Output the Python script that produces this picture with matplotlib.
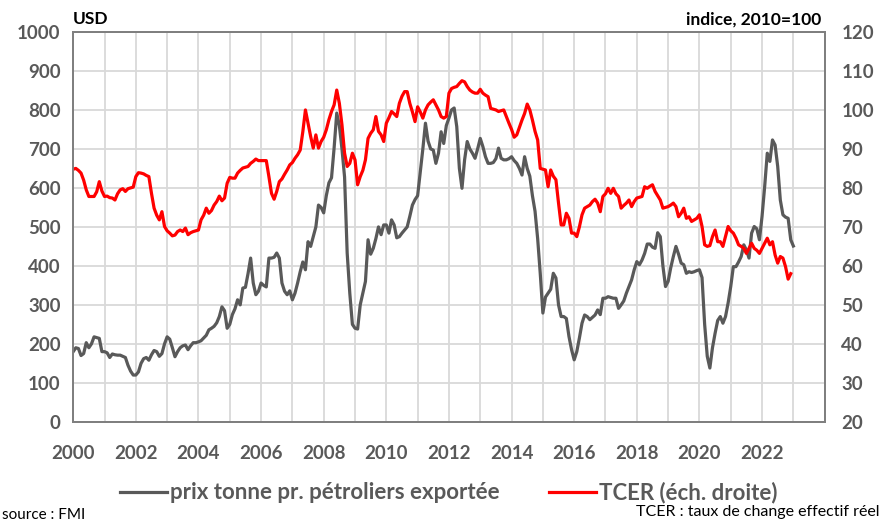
import numpy as np
import matplotlib.pyplot as plt

# monthly values, Jan 2000 onwards
prix_tonne = [
    180, 190, 188, 170, 175, 203, 190, 200, 218, 216, 214, 180,   # 2000
    180, 177, 165, 174, 172, 171, 171, 168, 165, 145, 130, 120,   # 2001
    120, 128, 150, 162, 165, 158, 172, 183, 180, 168, 175, 200,   # 2002
    218, 212, 190, 167, 180, 190, 195, 197, 185, 195, 203, 203,   # 2003
    205, 208, 215, 222, 236, 240, 245, 254, 270, 295, 285, 240,   # 2004
    250, 275, 290, 313, 300, 343, 345, 380, 420, 356, 326, 335,   # 2005
    356, 350, 346, 420, 420, 422, 433, 420, 356, 335, 326, 336,   # 2006
    313, 330, 356, 385, 410, 390, 462, 450, 475, 500, 556, 550,   # 2007
    536, 580, 613, 626, 703, 792, 760, 700, 628, 433, 330, 250,   # 2008
    240, 238, 300, 330, 360, 467, 430, 445, 470, 500, 480, 505,   # 2009
    505, 484, 518, 505, 472, 475, 484, 492, 500, 527, 556, 570,   # 2010
    580, 640, 700, 766, 720, 700, 697, 663, 689, 744, 714, 760,   # 2011
    779, 800, 805, 757, 650, 599, 672, 719, 700, 689, 676, 700,   # 2012
    727, 706, 680, 663, 663, 665, 675, 702, 676, 672, 672, 675,   # 2013
    680, 670, 663, 650, 633, 680, 650, 630, 580, 540, 470, 380,   # 2014
    279, 320, 330, 340, 381, 369, 300, 270, 270, 265, 219, 185,   # 2015
    159, 180, 215, 253, 274, 270, 262, 268, 274, 287, 275, 317,   # 2016
    317, 321, 319, 317, 317, 291, 300, 310, 330, 347, 364, 390,   # 2017
    411, 403, 415, 432, 456, 456, 448, 445, 485, 475, 400, 347,   # 2018
    360, 395, 424, 450, 430, 407, 403, 381, 385, 383, 385, 388,   # 2019
    390, 370, 250, 168, 138, 190, 227, 260, 270, 253, 270, 305,   # 2020
    347, 398, 398, 410, 424, 454, 441, 420, 484, 501, 495, 467,   # 2021
    527, 603, 689, 668, 723, 710, 655, 569, 531, 525, 522, 467,   # 2022
    451,                                                          # 2023
]

tcer = [
    84.8, 85.0, 84.5, 83.8, 82.0, 79.5, 77.8, 77.8, 77.8, 79.0, 81.6, 79.2,   # 2000
    77.8, 77.9, 77.5, 77.4, 76.9, 78.5, 79.5, 79.8, 79.1, 79.8, 80.0, 80.2,   # 2001
    82.9, 83.9, 83.8, 83.6, 83.2, 82.9, 78.6, 74.8, 73.0, 71.8, 73.9, 70.1,   # 2002
    69.0, 68.4, 67.7, 67.9, 68.8, 69.2, 68.8, 69.7, 68.0, 68.5, 68.8, 69.0,   # 2003
    69.2, 71.8, 73.0, 74.8, 73.5, 74.2, 75.6, 76.5, 77.9, 76.7, 77.4, 81.2,   # 2004
    82.7, 82.5, 82.5, 83.8, 84.5, 85.1, 85.3, 85.5, 86.3, 86.8, 87.4, 87.0,   # 2005
    87.0, 87.0, 87.0, 82.9, 78.6, 77.1, 79.1, 81.6, 82.3, 83.5, 84.6, 85.9,   # 2006
    86.5, 87.6, 88.5, 89.7, 94.4, 100.0, 96.6, 93.2, 90.2, 93.6, 90.2, 91.9,  # 2007
    93.0, 94.9, 97.5, 99.6, 101.3, 105.1, 101.7, 96.2, 88.9, 85.5, 86.3, 88.9,  # 2008
    87.2, 80.8, 82.9, 84.5, 87.2, 92.7, 94.0, 94.9, 98.3, 94.5, 93.6, 91.9,   # 2009
    96.6, 98.0, 99.6, 99.0, 98.3, 101.7, 103.5, 104.7, 104.7, 101.7, 99.5, 97.0,  # 2010
    100.8, 99.5, 97.9, 100.0, 101.3, 102.0, 102.6, 101.3, 100.0, 98.3, 97.9, 98.3,  # 2011
    104.3, 105.5, 105.8, 106.0, 106.8, 107.5, 107.2, 106.0, 105.1, 104.6, 104.3, 104.3,  # 2012
    105.3, 104.3, 103.8, 103.4, 100.4, 100.2, 100.0, 99.6, 99.8, 100.0, 98.3, 96.6,  # 2013
    95.0, 93.0, 93.6, 95.5, 97.4, 99.1, 101.5, 100.0, 97.4, 94.5, 92.3, 85.0,  # 2014
    84.8, 84.6, 80.3, 84.6, 83.0, 82.1, 76.1, 70.5, 70.5, 73.5, 72.2, 68.4,   # 2015
    68.4, 67.5, 70.0, 73.1, 74.8, 75.2, 75.6, 76.5, 77.1, 76.1, 73.9, 77.8,   # 2016
    78.5, 79.9, 78.6, 79.9, 78.5, 77.8, 74.8, 75.5, 76.1, 76.9, 75.2, 76.5,   # 2017
    77.4, 77.6, 77.8, 80.3, 79.9, 80.4, 80.8, 79.1, 78.0, 76.9, 74.8, 75.0,   # 2018
    75.2, 75.6, 76.1, 75.2, 72.6, 73.5, 74.8, 72.2, 72.6, 71.4, 71.8, 72.2,   # 2019
    73.1, 70.1, 65.4, 65.0, 65.2, 67.5, 69.2, 66.2, 66.2, 65.0, 67.5, 70.1,   # 2020
    69.0, 68.4, 67.1, 65.4, 65.0, 64.5, 63.2, 64.5, 65.8, 64.5, 64.0, 63.2,   # 2021
    64.5, 65.8, 67.1, 65.4, 66.2, 62.8, 60.7, 62.4, 62.0, 59.8, 56.6, 58.0,   # 2022
]

year_ticks = list(range(2000, 2024, 2))

plt.rcParams['font.family'] = ['Lato', 'DejaVu Sans']

x_prix = 2000 + np.arange(len(prix_tonne)) / 12
x_tcer = 2000 + np.arange(len(tcer)) / 12

fig = plt.figure(figsize=(8.82, 5.24), dpi=100)
ax = fig.add_axes([0.083, 0.195, 0.852, 0.744])
ax2 = ax.twinx()

tick_color = '#595959'

l1, = ax.plot(x_prix, prix_tonne, color='#595959', lw=2.3, label='prix tonne pr. pétroliers exportée')
l2, = ax2.plot(x_tcer, tcer, color='#ff0000', lw=2.3, label='TCER (éch. droite)')

ax.set_xlim(2000, 2024)
ax.set_ylim(0, 1000)
ax2.set_ylim(20, 120)
ax.set_yticks(range(0, 1001, 100))
ax2.set_yticks(range(20, 121, 10))
ax.set_xticks(year_ticks)
ax.set_xticks(range(2000, 2025), minor=True)

ax.grid(True, which='both', color='#d9d9d9', lw=1.3)
ax.set_axisbelow(True)

for a in (ax, ax2):
    for s in a.spines.values():
        s.set_color('#7f7f7f')
        s.set_linewidth(1.3)
    a.tick_params(length=0, which='both', labelsize=13.5, labelcolor=tick_color)
    for lab in a.get_yticklabels() + a.get_xticklabels():
        lab.set_fontweight('bold')
ax.tick_params(axis='y', pad=9)
ax2.tick_params(axis='y', pad=12)
ax.tick_params(axis='x', pad=17)

ax.text(0.0, 1.012, 'USD', transform=ax.transAxes, fontsize=12.5, fontweight='bold', ha='left', va='bottom')
ax.text(0.996, 1.012, 'indice, 2010=100', transform=ax.transAxes, fontsize=12.5, fontweight='bold',
        ha='right', va='bottom')

leg = fig.legend(handles=[l1, l2], loc='center', bbox_to_anchor=(0.509, 0.06), ncol=2, frameon=False,
                 fontsize=16, handlelength=2.1, handletextpad=0.15, columnspacing=2.2)
for t in leg.get_texts():
    t.set_color(tick_color)
    t.set_fontweight('bold')

fig.text(0.002, 0.003, 'source : FMI', fontsize=11, ha='left', va='bottom')
fig.text(0.997, 0.022, 'TCER : taux de change effectif réel', fontsize=11.5, ha='right', va='center')

fig.savefig('out.png', dpi=100)
